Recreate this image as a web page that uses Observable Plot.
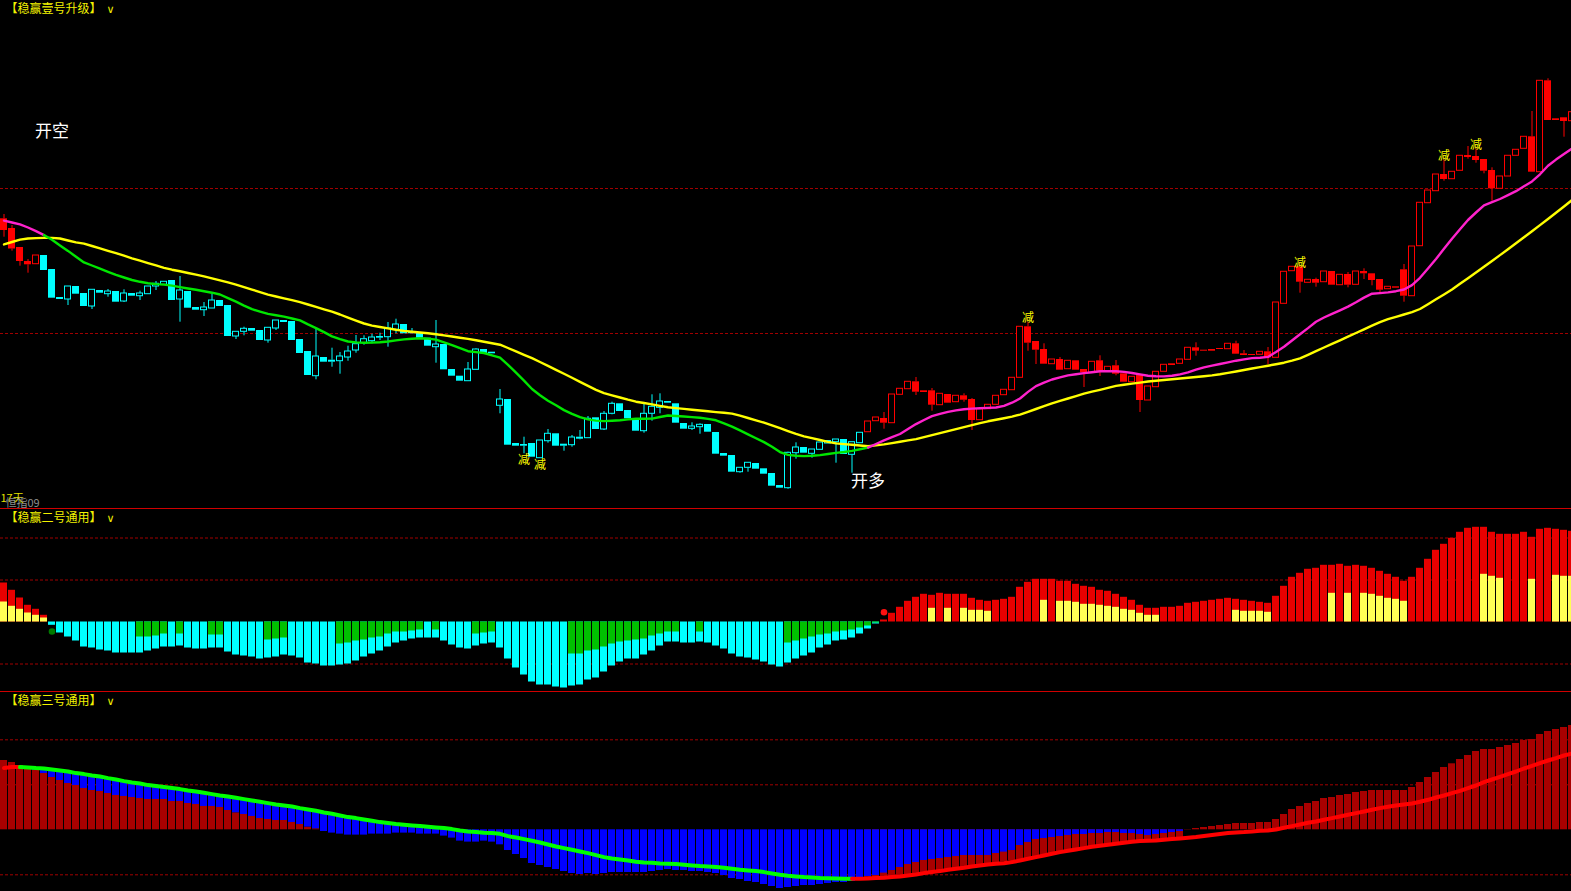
<!DOCTYPE html>
<html><head><meta charset="utf-8">
<script src="https://cdn.jsdelivr.net/npm/d3@7"></script>
<script src="https://cdn.jsdelivr.net/npm/@observablehq/plot@0.6"></script>
<style>
html,body{margin:0;padding:0;background:#000;overflow:hidden;}
#wrap{width:1571px;}
#wrap svg{display:block;}
</style></head><body><div id="wrap"></div>
<script>
// ---------- Panel 1: K-line (price) ----------
const openP = [7.817,7.72,7.53,7.39,7.363,7.45,7.31,7.03,7.01,7.14,
7.07,6.94,7.10,7.063,7.09,6.99,7.07,7.043,7.063,7.14,
7.157,7.20,7.01,7.09,6.93,6.903,6.92,7.00,6.95,6.64,
6.687,6.72,6.70,6.60,6.72,6.80,6.79,6.61,6.49,6.243,
6.43,6.403,6.393,6.43,6.50,6.573,6.593,6.64,6.633,6.707,
6.76,6.683,6.677,6.623,6.533,6.56,6.31,6.243,6.193,6.307,
6.51,6.483,5.947,6.01,5.57,5.56,5.57,5.423,5.593,5.667,
5.563,5.553,5.633,5.623,5.827,5.71,5.867,5.967,5.90,5.81,
5.693,5.867,5.927,5.99,5.967,5.77,5.717,5.733,5.76,5.68,
5.47,5.45,5.283,5.327,5.37,5.317,5.27,5.15,5.123,5.473,
5.53,5.467,5.507,5.57,5.583,5.61,5.457,5.573,5.683,5.793,
5.82,5.773,6.057,6.113,6.187,6.097,6.097,5.953,6.06,5.983,
6.047,6.01,5.803,5.913,5.957,6.053,6.103,6.227,6.737,6.59,
6.51,6.363,6.41,6.313,6.397,6.31,6.277,6.397,6.293,6.347,
6.267,6.183,6.253,6.00,6.133,6.287,6.367,6.367,6.407,6.527,
6.503,6.51,6.52,6.513,6.567,6.467,6.46,6.457,6.487,6.427,
6.967,7.293,7.337,7.177,7.21,7.183,7.29,7.153,7.26,7.157,
7.29,7.267,7.21,7.113,7.137,7.307,7.043,7.543,7.973,8.093,
8.26,8.213,8.297,8.45,8.44,8.41,8.30,8.117,8.24,8.447,
8.517,8.637,8.283,9.197,8.817,8.827,8.793];
const highP = [7.86,7.75,7.53,7.41,7.45,7.45,7.31,7.03,7.14,7.14,
7.07,7.107,7.10,7.11,7.09,7.107,7.07,7.093,7.14,7.19,
7.187,7.20,7.24,7.09,6.93,6.98,7.06,7.00,6.95,6.687,
6.733,6.72,6.70,6.727,6.80,6.80,6.79,6.61,6.49,6.71,
6.43,6.523,6.48,6.543,6.65,6.647,6.663,6.673,6.78,6.813,
6.76,6.72,6.677,6.623,6.80,6.56,6.31,6.243,6.38,6.517,
6.51,6.483,6.11,6.01,5.57,5.633,5.57,5.60,5.71,5.667,
5.563,5.65,5.70,5.84,5.827,5.89,5.983,5.967,5.90,5.81,
5.967,6.057,6.067,5.99,5.967,5.77,5.777,5.767,5.76,5.68,
5.47,5.45,5.327,5.377,5.37,5.317,5.27,5.15,5.483,5.577,
5.53,5.51,5.58,5.595,5.61,5.61,5.583,5.677,5.79,5.83,
5.88,6.06,6.117,6.187,6.23,6.097,6.12,6.067,6.06,6.047,
6.067,6.02,5.913,5.957,6.047,6.107,6.227,6.737,6.783,6.59,
6.567,6.41,6.43,6.397,6.397,6.31,6.387,6.447,6.337,6.40,
6.267,6.237,6.253,6.14,6.287,6.357,6.367,6.41,6.527,6.577,
6.503,6.51,6.52,6.567,6.593,6.50,6.46,6.487,6.53,6.98,
7.287,7.337,7.337,7.207,7.223,7.29,7.29,7.257,7.28,7.29,
7.317,7.267,7.21,7.137,7.137,7.36,7.54,7.977,8.10,8.26,
8.407,8.287,8.447,8.54,8.517,8.41,8.327,8.24,8.447,8.507,
8.637,8.89,9.197,9.217,8.817,8.827,8.883];
const lowP = [7.633,7.493,7.343,7.273,7.363,7.30,7.023,7.01,6.95,7.063,
6.94,6.91,7.073,7.033,6.983,6.98,7.043,7.00,7.063,7.10,
7.157,7.00,6.783,6.923,6.903,6.84,6.92,6.94,6.64,6.61,
6.647,6.693,6.60,6.573,6.70,6.78,6.60,6.47,6.25,6.207,
6.383,6.333,6.263,6.393,6.473,6.553,6.567,6.60,6.533,6.667,
6.667,6.667,6.623,6.543,6.373,6.307,6.243,6.193,6.193,6.307,
6.467,6.467,5.867,5.553,5.543,5.467,5.433,5.423,5.573,5.543,
5.493,5.533,5.607,5.623,5.71,5.70,5.857,5.89,5.817,5.693,
5.673,5.793,5.867,5.973,5.773,5.713,5.70,5.663,5.683,5.463,
5.443,5.283,5.273,5.283,5.313,5.263,5.143,5.123,5.113,5.413,
5.473,5.423,5.507,5.57,5.373,5.46,5.273,5.573,5.683,5.793,
5.713,5.773,6.057,6.113,6.05,6.08,5.893,5.953,5.973,5.983,
5.983,5.70,5.803,5.913,5.957,6.053,6.103,6.227,6.493,6.36,
6.363,6.363,6.303,6.313,6.303,6.13,6.277,6.24,6.293,6.247,
6.183,6.183,5.88,6.00,6.133,6.287,6.35,6.367,6.407,6.443,
6.493,6.493,6.51,6.513,6.463,6.45,6.45,6.457,6.36,6.427,
6.967,7.293,7.073,7.177,7.133,7.183,7.153,7.153,7.127,7.157,
7.21,7.147,7.08,7.113,7.123,6.983,7.043,7.543,7.973,8.093,
8.193,8.213,8.297,8.413,8.373,8.267,7.993,8.117,8.24,8.447,
8.517,8.283,8.283,8.80,8.80,8.633,8.793];
const closeP = [7.70,7.515,7.39,7.357,7.45,7.30,7.023,7.01,7.14,7.063,
6.94,7.107,7.073,7.09,6.983,7.07,7.043,7.07,7.14,7.167,
7.187,7.00,7.10,6.923,6.903,6.93,7.00,6.94,6.64,6.687,
6.717,6.693,6.60,6.727,6.80,6.78,6.60,6.47,6.25,6.44,
6.383,6.383,6.44,6.49,6.563,6.613,6.63,6.623,6.72,6.76,
6.667,6.667,6.623,6.543,6.56,6.307,6.243,6.193,6.31,6.51,
6.467,6.467,6.01,5.553,5.543,5.543,5.433,5.60,5.667,5.543,
5.543,5.63,5.613,5.817,5.71,5.867,5.967,5.89,5.817,5.693,
5.867,5.937,5.99,5.973,5.773,5.713,5.74,5.757,5.683,5.463,
5.443,5.283,5.327,5.377,5.313,5.263,5.143,5.123,5.477,5.53,
5.473,5.51,5.58,5.595,5.61,5.46,5.583,5.677,5.79,5.83,
5.773,6.06,6.117,6.187,6.083,6.08,5.953,6.067,5.973,6.047,
6.003,5.80,5.913,5.957,6.047,6.107,6.227,6.737,6.573,6.503,
6.363,6.41,6.303,6.397,6.303,6.277,6.387,6.293,6.337,6.263,
6.183,6.237,6.00,6.14,6.287,6.357,6.35,6.41,6.527,6.493,
6.493,6.493,6.51,6.567,6.463,6.45,6.45,6.487,6.427,6.98,
7.287,7.337,7.183,7.207,7.173,7.29,7.153,7.257,7.153,7.29,
7.267,7.20,7.103,7.137,7.123,7.043,7.54,7.977,8.10,8.26,
8.21,8.287,8.447,8.43,8.40,8.293,8.117,8.24,8.447,8.507,
8.637,8.283,9.197,8.80,8.80,8.79,8.883];
// fast and slow moving-average lines
const fastMA = [7.799,7.780,7.761,7.730,7.694,7.654,7.607,7.551,7.496,7.438,
7.381,7.350,7.319,7.287,7.256,7.230,7.205,7.187,7.172,7.164,
7.159,7.149,7.134,7.120,7.107,7.093,7.078,7.060,7.023,6.988,
6.949,6.913,6.889,6.866,6.853,6.839,6.820,6.801,6.761,6.724,
6.684,6.641,6.614,6.590,6.581,6.578,6.579,6.582,6.590,6.601,
6.611,6.618,6.622,6.619,6.609,6.582,6.554,6.523,6.493,6.484,
6.475,6.452,6.428,6.357,6.278,6.199,6.115,6.053,5.997,5.952,
5.904,5.866,5.833,5.811,5.799,5.794,5.798,5.803,5.811,5.817,
5.817,5.819,5.835,5.850,5.845,5.840,5.834,5.827,5.816,5.802,
5.772,5.739,5.701,5.662,5.622,5.584,5.537,5.484,5.456,5.447,
5.444,5.448,5.454,5.465,5.476,5.485,5.496,5.512,5.529,5.565,
5.602,5.634,5.665,5.714,5.764,5.805,5.843,5.866,5.886,5.901,
5.912,5.919,5.922,5.926,5.930,5.946,5.978,6.020,6.086,6.144,
6.179,6.210,6.231,6.251,6.262,6.274,6.283,6.293,6.293,6.293,
6.286,6.275,6.261,6.247,6.242,6.241,6.247,6.261,6.281,6.308,
6.331,6.348,6.365,6.381,6.398,6.411,6.424,6.428,6.436,6.485,
6.537,6.600,6.663,6.724,6.788,6.830,6.866,6.902,6.939,6.982,
7.029,7.068,7.074,7.081,7.093,7.110,7.154,7.227,7.320,7.415,
7.517,7.618,7.712,7.805,7.880,7.952,7.984,8.015,8.054,8.093,
8.142,8.191,8.262,8.347,8.409,8.464,8.520];
const slowMA = [7.561,7.585,7.609,7.620,7.624,7.626,7.626,7.620,7.600,7.581,
7.569,7.545,7.521,7.497,7.473,7.448,7.422,7.398,7.374,7.351,
7.327,7.308,7.292,7.275,7.259,7.241,7.221,7.201,7.181,7.159,
7.134,7.109,7.084,7.059,7.040,7.022,7.003,6.984,6.960,6.936,
6.912,6.888,6.860,6.829,6.799,6.770,6.749,6.735,6.721,6.707,
6.696,6.688,6.680,6.672,6.663,6.651,6.640,6.628,6.616,6.602,
6.587,6.573,6.558,6.525,6.491,6.457,6.423,6.385,6.346,6.307,
6.267,6.227,6.186,6.146,6.106,6.074,6.052,6.030,6.008,5.988,
5.975,5.961,5.946,5.932,5.924,5.916,5.908,5.900,5.892,5.884,
5.877,5.869,5.848,5.825,5.802,5.778,5.751,5.723,5.694,5.666,
5.642,5.623,5.605,5.586,5.571,5.564,5.557,5.550,5.543,5.551,
5.561,5.574,5.588,5.601,5.614,5.633,5.653,5.673,5.694,5.714,
5.734,5.754,5.774,5.792,5.808,5.823,5.839,5.859,5.887,5.915,
5.944,5.972,5.996,6.020,6.044,6.068,6.088,6.107,6.127,6.146,
6.158,6.169,6.179,6.190,6.198,6.205,6.212,6.220,6.227,6.235,
6.243,6.251,6.262,6.276,6.290,6.305,6.320,6.334,6.348,6.363,
6.378,6.399,6.422,6.457,6.493,6.530,6.566,6.602,6.639,6.675,
6.711,6.748,6.784,6.813,6.837,6.860,6.884,6.915,6.963,7.012,
7.060,7.110,7.167,7.223,7.280,7.337,7.395,7.454,7.513,7.572,
7.632,7.693,7.754,7.815,7.877,7.940,8.004];
const bearFrom = 5, bullFrom = 108;          // candle colouring regime
const priceGrid = [8.12, 6.67];
const signalIdx = [6, 108], signalPrice = [8.69, 5.19], signalText = ["开空", "开多"];
const cutUpIdx = [128, 162, 180, 184], cutDownIdx = [65, 67];

// ---------- Panel 2 ----------
const osc2 = [39,31.7,24,16.7,12.7,6.7,-3.3,-11,-15,-19,
-25,-26,-28,-29,-31,-31,-31,-31,-29,-27,
-25,-25,-24,-26,-27,-27,-26,-26,-30,-33,
-34,-35,-37,-36,-35,-33,-34,-36,-41,-42,
-44,-44,-43,-42,-39,-35,-32,-29,-25,-21,
-19,-17,-16,-16,-16,-19,-23,-26,-27,-24,
-22,-21,-26,-37,-46,-53,-60,-63,-63,-65,
-66,-64,-63,-58,-56,-50,-44,-40,-37,-37,
-33,-29,-24,-20,-20,-21,-21,-20,-21,-24,
-27,-32,-35,-36,-38,-40,-43,-45,-41,-37,
-34,-31,-26,-23,-19,-18,-16,-12,-7,-2,
2,8.7,14.7,20.7,24.7,27.7,26.7,28.7,27.7,27.7,
27.7,23.7,21.7,20.7,21.7,22.7,24.7,34.7,39.7,42.7,
42.7,42.7,40.7,40.7,37.7,35.7,34.7,31.7,30.7,27.7,
24.7,21.7,16.7,13.7,13.7,14.7,14.7,15.7,18.7,19.7,
20.7,21.7,22.7,23.7,22.7,21.7,20.7,19.7,18.7,25.7,
35.7,44.7,48.7,52.7,53.7,56.7,56.7,57.7,55.7,56.7,
55.7,53.7,50.7,47.7,44.7,40.7,44.7,53.7,62.7,71.7,
77.7,83.7,89.7,93.7,94.7,94.7,89.7,87.7,87.7,87.7,
89.7,84.7,92.7,93.7,92.7,91.7,90.7];
const osc2Inner = [20,15.7,12.7,9,6.7,4,null,null,null,null,
null,null,null,null,null,null,null,-15,-15,-14,
-12,null,-12,null,null,null,-13,-13,null,null,
null,null,null,-18,-17,-16,null,null,null,null,
null,null,-22,-21,-19,-18,-16,-15,-12,-10,
-10,-9,-8,null,-8,null,null,null,null,-12,
-11,-10,null,null,null,null,null,null,null,null,
null,-32,-32,-29,-28,-25,-22,-20,-19,-18,
-17,-14,-12,-10,-10,null,null,-10,null,null,
null,null,null,null,null,null,null,null,-21,-19,
-17,-15,-13,-12,-10,-9,-8,-6,-4,-1,
null,null,null,null,null,null,13.7,null,13.7,null,
13.7,11.7,11.7,10.7,null,null,null,null,null,null,
21.7,null,20.7,20.7,19.7,17.7,17.7,16.7,15.7,14.7,
12.7,11.7,8.7,6.7,6.7,null,null,null,null,null,
null,null,null,null,11.7,10.7,10.7,10.7,9.7,null,
null,null,null,null,null,null,28.7,null,28.7,null,
28.7,27.7,25.7,23.7,22.7,20.7,null,null,null,null,
null,null,null,null,null,47.7,45.7,43.7,null,null,
null,42.7,null,null,46.7,45.7,45.7];
const osc2Grid = [84, 42, -42];
const dotIdx = [6, 110], dotVal = [-9.5, 9.8];

// ---------- Panel 3 ----------
const bar3Red = [69.3,67.3,64.3,61.7,59.3,56.3,52.3,49.3,46.3,44.3,
41.3,39.3,38.3,36.3,34.3,33.3,32.3,31.3,30.3,30.3,
30.3,28.3,28.3,26.3,25.3,23.3,23.3,22.3,19.3,17,
15.3,13.3,11.3,10.3,9.3,9.3,7.3,5.3,2.7,1,
0,0,0,0,0,0,0,0,0,0,
0,0,0,0,0,0,0,0,0,0,
0,0,0,0,0,0,0,0,0,0,
0,0,0,0,0,0,0,0,0,0,
0,0,0,0,0,0,0,0,0,0,
0,0,0,0,0,0,0,0,0,0,
0,0,0,0,0,0,0,0,-48.7,-48.3,
-48.3,-48,-47.3,-46.3,-45.3,-44,-43,-41.7,-40.7,-39.7,
-38.3,-37.3,-36,-35,-34,-32.3,-30.7,-29.7,-28.7,-27.3,
-25.7,-24.7,-23,-21.3,-20,-18.7,-17.3,-16.3,-15.3,-14.3,
-13.3,-12.3,-11.3,-10.7,-10,-9.3,-8.7,-7.7,0.3,1.3,
2.3,3.3,4.3,5.3,6.3,6.3,6.3,7.3,7.3,10.3,
15.3,20.3,23.3,26.3,28.3,31.3,32.3,34.3,35.3,37.3,
38.3,39.3,39.3,39.3,39.3,39.3,42.3,47.3,52.3,57.3,
62.3,66,70.3,74.3,78.3,80.3,80.3,82.3,84.3,86.3,
89.3,90.3,95.3,98.3,100.3,102.3,104.3];
const bar3Blue = [null,null,null,61.7,59.3,56.3,52.3,49.3,46.3,44.3,
41.3,39.3,38.3,36.3,34.3,33.3,32.3,31.3,30.3,30.3,
30.3,28.3,28.3,26.3,25.3,23.3,23.3,22.3,19.3,17,
15.3,13.3,11.3,10.3,9.3,9.3,7.3,5.3,2.7,1,
-1.7,-3.3,-4.3,-5.3,-5.3,-5.3,-4.3,-4.3,-4.3,-3.3,
-3.3,-3.3,-4.3,-4.3,-4.3,-6.3,-8.3,-11.3,-12.3,-12.3,
-11.3,-12.3,-15,-20.7,-24.7,-28.7,-33.7,-35.7,-37.7,-39.7,
-41.7,-43.7,-44.7,-43.7,-44.7,-43.7,-42.7,-42.7,-42.7,-42.7,
-42.7,-41.7,-40.7,-39.7,-40.7,-40.7,-41.7,-41.7,-42.7,-43.7,
-45.7,-48.7,-49.7,-51.7,-52.7,-54.7,-56.7,-58.7,-57.7,-56.7,
-55.7,-55.7,-54.7,-53.7,-52.7,-52.7,-51.7,-50.7,-46.7,-45.7,
-43.3,-40.7,-37.7,-34.7,-32.7,-30.7,-29.7,-28.7,-27.7,-26.7,
-25.7,-25.7,-25.7,-25.7,-23.7,-22.3,-20.7,-15.7,-12.7,-9.7,
-8.7,-7.7,-6.7,-5.7,-4.7,-4.7,-3.7,-3.7,-2.7,-2.7,
-3.7,-3.7,-4.7,-5.7,-4.7,-3.7,-2.7,-1.7,null,null,
null,null,null,null,null,null,null,null,null,null,
null,null,null,null,null,null,null,null,null,null,
null,null,null,null,null,null,null,null,null,null,
null,null,null,null,null,null,null,null,null,null,
null,null,null,null,null,null,null];
const line3 = [61.7,62.7,62.7,62.3,61.7,61.3,60.3,59.3,58.3,56.7,
55.7,54.3,53.3,51.7,50.3,48.7,47.3,46.3,44.7,43.7,
42.7,41.7,40.7,39.3,38.3,37,35.7,34.3,33.3,32,
30.7,29.3,28,26.7,25.3,24.3,23.3,21.7,20.3,19,
17.3,16,14.3,12.7,11.7,10.3,9,7.7,6.7,5.7,
5,4.3,3.7,3,2.3,1.7,0.7,-0.7,-1.7,-2.3,
-3,-3.3,-4,-6.3,-7.7,-9.3,-11,-12.7,-14.7,-16.7,
-18.3,-20,-21.7,-23.3,-25.3,-27.3,-28.7,-29.7,-30.7,-32,
-32.7,-33,-33.7,-34,-34.3,-35,-35.7,-36.3,-36.7,-37.3,
-38,-39,-40,-40.7,-41.3,-42.3,-43.7,-45,-46,-46.7,
-47.3,-47.7,-48.3,-48.5,-48.7,-48.9,-49,-48.9,-48.7,-48.3,
-48,-47.3,-46.7,-45.7,-44.7,-43.3,-42.3,-41.3,-40,-39,
-38,-36.7,-35.7,-34.7,-34,-33.5,-32.3,-30.7,-29,-27.3,
-25.7,-24,-22.3,-21,-19.7,-18.3,-17,-16,-15,-14,
-13,-12,-11.3,-11,-10.7,-10,-9.3,-8.7,-8,-7.3,
-6.3,-5.3,-4.3,-3.3,-2.7,-2.3,-1.7,-1,-0.7,0.3,
2,3.7,5.3,7,8.3,10,11.7,13.3,15,16.7,
18.3,20,21.7,23,24.3,25.3,26.3,28,30,32.3,
34.3,36.7,39,41.7,44.3,47.7,50.3,53,55.7,58.3,
61.3,64,66.7,69.3,71.7,74.3,76.3];
const osc3Grid = [90, 45, -45];

// ---------- build ----------
const W = 1571;
const N = closeP.length;
const xDom = [-0.4375, W / 8 - 0.4375];
const CJK = "'Noto Sans CJK SC', 'Noto Sans', sans-serif";
const RED = "#ff0000", CYAN = "#00ffff", GRID = "#a00000";
const bx1 = d => d.i - 0.4375, bx2 = d => d.i + 0.4375;

function runs(vals, colorOf) {
  const out = []; let run = 0, prev;
  vals.forEach((v, i) => {
    const c = colorOf(i);
    if (i > 0 && c !== prev) { run++; out.push({i: i - 1, v: vals[i - 1], run, c}); }
    out.push({i, v, run, c}); prev = c;
  });
  return out;
}
function base(height, yDom, marks) {
  return Plot.plot({
    width: W, height,
    marginTop: 0, marginRight: 0, marginBottom: 0, marginLeft: 0,
    x: {domain: xDom, axis: null},
    y: {domain: yDom, axis: null},
    color: {type: "identity"},
    style: {background: "#000", color: "#fff", overflow: "hidden"},
    marks
  });
}
function title(txt, cy) {
  return [
    Plot.text([txt], {frameAnchor: "top-left", dx: 5, dy: cy, lineAnchor: "middle", textAnchor: "start",
      fill: "#f2f200", fontSize: 12, fontFamily: CJK}),
    Plot.text(["∨"], {frameAnchor: "top-left", dx: 106, dy: cy, lineAnchor: "middle", textAnchor: "start",
      fill: "#f2f200", fontSize: 11, fontFamily: "DejaVu Sans"})
  ];
}

const idx = d3.range(N);
const candles = idx.map(i => ({
  i, o: openP[i], h: highP[i], l: lowP[i], c: closeP[i],
  up: closeP[i] > openP[i],
  col: (i >= bearFrom && i < bullFrom) ? CYAN : RED
}));
const fastRuns = runs(fastMA, i => fastMA[i] > slowMA[i] ? "#ff22cc" : "#00e600");
const slowRows = idx.map(i => ({i, v: slowMA[i]}));

const p1 = base(508, [10 - 508 / 100, 10], [
  Plot.ruleY(priceGrid, {stroke: GRID, strokeDasharray: "3,2"}),
  Plot.ruleX(candles, {x: "i", y1: d => Math.max(d.o, d.c), y2: "h", stroke: "col"}),
  Plot.ruleX(candles, {x: "i", y1: "l", y2: d => Math.min(d.o, d.c), stroke: "col"}),
  Plot.rect(candles.filter(d => !d.up), {x1: bx1, x2: bx2, y1: "o", y2: "c", fill: "col"}),
  Plot.rect(candles.filter(d => d.up), {x1: d => d.i - 0.375, x2: d => d.i + 0.375, y1: "o", y2: "c",
    fill: "#000", stroke: "col", strokeWidth: 1}),
  Plot.line(slowRows, {x: "i", y: "v", stroke: "#ffff00", strokeWidth: 2.4}),
  Plot.line(fastRuns, {x: "i", y: "v", z: "run", stroke: "c", strokeWidth: 2.4}),
  Plot.text(signalIdx.map((i, k) => ({i, p: signalPrice[k], t: signalText[k]})),
    {x: "i", y: "p", text: "t", fill: "#ffffff", fontSize: 17, fontFamily: CJK}),
  Plot.text(cutUpIdx.map(i => ({i, p: highP[i]})),
    {x: "i", y: "p", text: () => "减", lineAnchor: "bottom", dy: 0, fill: "#ffff00", fontSize: 12, fontFamily: CJK}),
  Plot.text(cutDownIdx.map(i => ({i, p: lowP[i]})),
    {x: "i", y: "p", text: () => "减", lineAnchor: "top", dy: 2, fill: "#ffff00", fontSize: 12, fontFamily: CJK}),
  ...title("【稳赢壹号升级】", 9),
  Plot.text(["17天"], {frameAnchor: "bottom-left", dx: 0, dy: -7, lineAnchor: "bottom", textAnchor: "start",
    fill: "#e0e000", fontSize: 11, fontFamily: CJK}),
  Plot.text(["恒指09"], {frameAnchor: "bottom-left", dx: 5, dy: -2, lineAnchor: "bottom", textAnchor: "start",
    fill: "#8c8c8c", fontSize: 11, fontFamily: CJK})
]);

const rows2 = idx.map(i => ({i, v: osc2[i], w: osc2Inner[i]}));
const p2 = base(182, [112.5 - 182, 112.5], [
  Plot.ruleY(osc2Grid, {stroke: GRID, strokeDasharray: "3,2"}),
  Plot.rect(rows2, {x1: bx1, x2: bx2, y1: 0, y2: "v", fill: d => d.v >= 0 ? "#e80000" : CYAN}),
  Plot.rect(rows2.filter(d => d.w != null), {x1: bx1, x2: bx2, y1: 0, y2: "w",
    fill: d => d.w >= 0 ? "#ffff55" : "#00c000"}),
  Plot.dot(dotIdx.map((i, k) => ({i, v: dotVal[k]})), {x: "i", y: "v", r: 3.3,
    fill: d => d.v >= 0 ? "#ff1010" : "#007a00"}),
  ...title("【稳赢二号通用】", 9)
]);

const rows3 = idx.map(i => ({i, r: bar3Red[i], b: bar3Blue[i], l: line3[i]}));
let st = RED;
const lineCol = line3.map((v, i) => {
  if (i > 0) { if (v > line3[i - 1]) st = RED; else if (v < line3[i - 1]) st = "#00ff00"; }
  return st;
});
const p3 = base(199, [137.3 - 199, 137.3], [
  Plot.ruleY(osc3Grid, {stroke: GRID, strokeDasharray: "3,2"}),
  Plot.rect(rows3.filter(d => d.r !== 0), {x1: bx1, x2: bx2, y1: 0, y2: "r", fill: "#a80000"}),
  Plot.rect(rows3.filter(d => d.b != null), {x1: bx1, x2: bx2, y1: "b", y2: d => Math.max(d.l, 0), fill: "#0000ff"}),
  Plot.line(runs(line3, i => lineCol[i]), {x: "i", y: "v", z: "run", stroke: "c", strokeWidth: 4}),
  ...title("【稳赢三号通用】", 9)
]);

const wrap = document.getElementById("wrap");
p1.style.borderBottom = "1px solid #d00000";
p2.style.borderBottom = "1px solid #d00000";
wrap.append(p1, p2, p3);
</script></body></html>
